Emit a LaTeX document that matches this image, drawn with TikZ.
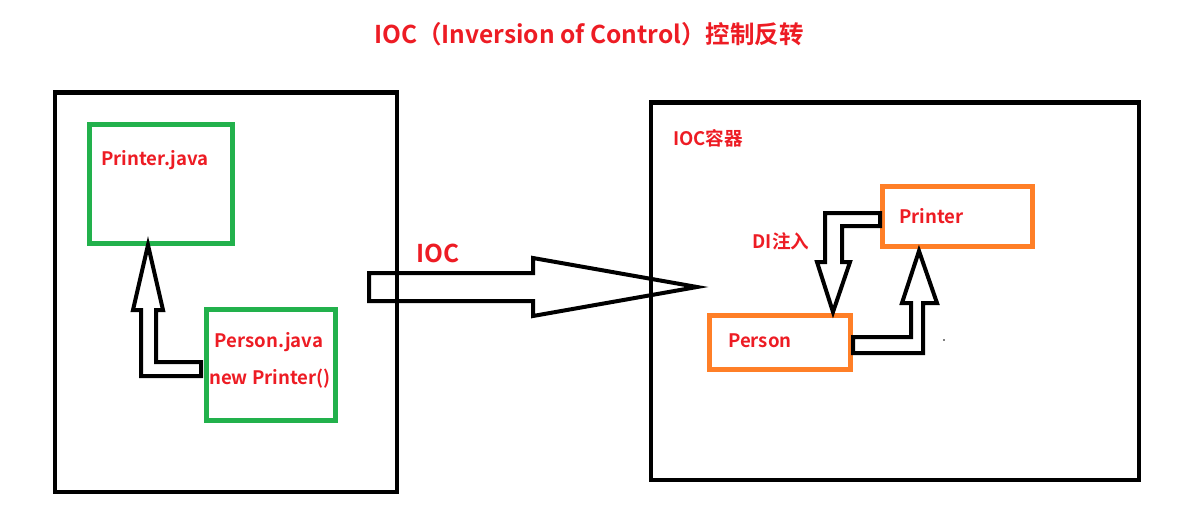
\documentclass[tikz,border=0pt]{standalone}
\usepackage{fontspec}
\setmainfont{Noto Sans CJK SC}[BoldFont={* Bold}]
\newfontfamily\cjkbold{Noto Sans CJK SC Bold}
\definecolor{pred}{HTML}{ED1C24}
\definecolor{pgreen}{HTML}{22B14C}
\definecolor{porange}{HTML}{FF7F27}
\begin{document}
\begin{tikzpicture}[x=1pt,y=-1pt,
  bigbox/.style={draw=black,line width=4.5pt},
  greenbox/.style={draw=pgreen,line width=5pt},
  orangebox/.style={draw=porange,line width=5pt},
  hollow/.style={draw=black,line width=4pt,line join=miter,fill=none},
  lbl/.style={text=pred,font=\cjkbold\fontsize{18.6}{22}\selectfont,inner sep=0pt},
  biglbl/.style={text=pred,font=\cjkbold\fontsize{24.5}{29}\selectfont,inner sep=0pt}]
\useasboundingbox (0,0) rectangle (1195,522);
% title
\node[biglbl,anchor=center] (title) at (589,34) {IOC（Inversion of Control）控制反转};
% big boxes
\draw[bigbox] (55,92.5) rectangle (397,492) coordinate (lb);
\draw[bigbox] (651,102.5) rectangle (1139,480) coordinate (rb);
% green boxes
\node[greenbox,minimum width=143pt,minimum height=119pt,inner sep=0pt] (printerj) at (160.5,183.5) {};
\node[greenbox,minimum width=129pt,minimum height=111pt,inner sep=0pt] (personj) at (270.5,364.5) {};
\node[lbl,anchor=west] (tprinterj) at (101,160) {Printer.java};
\node[lbl,anchor=center] (tpersonj) at (269,342) {Person.java};
\node[lbl,anchor=center] (tnewp) at (270,379) {new Printer()};
% left hollow arrow
\draw[hollow] (148,245) -- (163,310) -- (156,310) -- (156,362) -- (201,362) -- (201,376) -- (141,376) -- (141,310) -- (133,310) -- cycle;
% IOC arrow
\draw[hollow] (369,273) -- (533,273) -- (533,258) -- (697,287) -- (533,316) -- (533,301) -- (369,301) -- cycle;
\node[biglbl,anchor=center] (tioc) at (438,253) {IOC};
% right side
\node[lbl,anchor=west] (tcont) at (673,138) {IOC容器};
\node[orangebox,minimum width=150pt,minimum height=60pt,inner sep=0pt] (printer) at (957.5,216.5) {};
\node[orangebox,minimum width=141pt,minimum height=54pt,inner sep=0pt] (person) at (779.5,342) {};
\node[lbl,anchor=west] (tprinter) at (899,216) {Printer};
\node[lbl,anchor=west] (tperson) at (728,341) {Person};
\node[lbl,anchor=center] (tdi) at (781,241) {DI注入};
% DI arrow
\draw[hollow] (880,213) -- (825,213) -- (825,262) -- (817,262) -- (833,312) -- (850,262) -- (842,262) -- (842,226) -- (880,226) -- cycle;
% up arrow
\draw[hollow] (853,337) -- (911,337) -- (911,303) -- (902,303) -- (919,251) -- (937,303) -- (923,303) -- (923,353) -- (853,353) -- cycle;
\fill[black] (944,340) circle (0.8);
\end{tikzpicture}
\end{document}
